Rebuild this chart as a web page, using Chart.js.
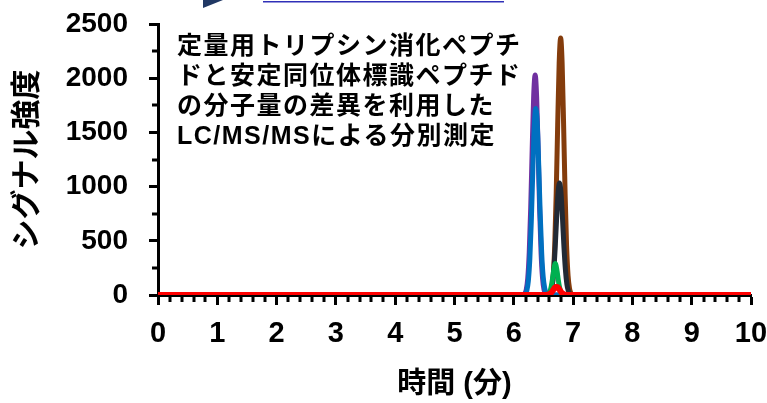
<!DOCTYPE html>
<html lang="ja">
<head>
<meta charset="utf-8">
<script src="https://cdn.jsdelivr.net/npm/chart.js@4.4.1/dist/chart.umd.min.js"></script>
<style>
  html, body { margin: 0; padding: 0; background: #fff; }
  #wrap { position: relative; width: 767px; height: 403px; overflow: hidden; }
  #chart { position: absolute; left: 0; top: 0; }
  #deco { position: absolute; left: 0; top: 0; }
  #note {
    position: absolute; left: 177px; top: 30px;
    font: 700 25px "Liberation Sans", "Noto Sans CJK JP", sans-serif;
    letter-spacing: 1.5px; line-height: 30px; color: #000; white-space: nowrap;
  }
</style>
</head>
<body>
<div id="wrap">
  <canvas id="chart" width="767" height="403"></canvas>
  <svg id="deco" width="767" height="12">
    <polygon points="203,0 223,0 203,8" fill="#203864"/>
    <rect x="263" y="1" width="241" height="1.5" fill="#3030B8"/>
  </svg>
  <div id="note">定量用トリプシン消化ペプチ<br>ドと安定同位体標識ペプチド<br>の分子量の差異を利用した<br>LC/MS/MSによる分別測定</div>
</div>
<script>
// Retention time (min) and signal intensity for each monitored transition
const purpleTime   = [0, 6.14, 6.16, 6.185, 6.21, 6.235, 6.26, 6.285, 6.31, 6.335, 6.36, 6.385, 6.41, 6.435, 6.46, 6.485, 6.51, 6.535, 6.56, 6.58, 10];
const purpleSignal = [0, 0, 3, 13, 49, 153, 389, 801, 1343, 1831, 2030, 1831, 1343, 801, 389, 153, 49, 13, 3, 0, 0];

const blueTime   = [0, 6.15, 6.17, 6.195, 6.22, 6.245, 6.27, 6.295, 6.32, 6.345, 6.37, 6.395, 6.42, 6.445, 6.47, 6.495, 6.52, 6.545, 6.57, 6.6, 6.63, 10];
const blueSignal = [0, 0, 2, 11, 42, 130, 329, 679, 1138, 1551, 1720, 1590, 1200, 750, 390, 170, 65, 22, 6, 1, 0, 0];

const brownTime   = [0, 6.57, 6.59, 6.615, 6.64, 6.665, 6.69, 6.715, 6.74, 6.765, 6.79, 6.815, 6.84, 6.865, 6.89, 6.915, 6.94, 6.965, 6.99, 7.01, 10];
const brownSignal = [0, 0, 3, 15, 58, 179, 454, 935, 1568, 2137, 2370, 2137, 1568, 935, 454, 179, 58, 15, 3, 0, 0];

const greenTime   = [0, 6.55, 6.57, 6.59, 6.61, 6.63, 6.65, 6.67, 6.70, 6.73, 6.75, 6.77, 6.79, 6.81, 6.83, 6.85, 10];
const greenSignal = [0, 0, 3, 11, 32, 75, 140, 220, 290, 220, 140, 75, 32, 11, 3, 0, 0];

const darkTime   = [0, 6.55, 6.57, 6.595, 6.62, 6.645, 6.67, 6.695, 6.72, 6.745, 6.77, 6.795, 6.82, 6.845, 6.87, 6.895, 6.92, 6.945, 6.97, 7.0, 7.03, 10];
const darkSignal = [0, 0, 1, 7, 25, 78, 198, 408, 684, 933, 1034, 950, 720, 450, 235, 100, 36, 11, 3, 1, 0, 0];

const redTime   = [0, 6.52, 6.545, 6.57, 6.595, 6.62, 6.645, 6.67, 6.695, 6.72, 6.745, 6.77, 6.795, 6.82, 6.845, 6.87, 6.895, 6.92, 10];
const redSignal = [0, 0, 1, 2, 6, 15, 30, 50, 69, 76, 69, 50, 30, 15, 6, 2, 1, 0, 0];

// Axis ticks
const xTicks = [0, 1, 2, 3, 4, 5, 6, 7, 8, 9, 10];
const yTicks = [0, 500, 1000, 1500, 2000, 2500];

const toPoints = (t, s) => t.map((v, i) => ({ x: v, y: s[i] }));

// Series listed top-most first (Chart.js paints dataset 0 last)
const series = [
  { t: redTime,    s: redSignal,    color: '#FF0000', width: 6 },
  { t: greenTime,  s: greenSignal,  color: '#00B050', width: 5 },
  { t: darkTime,   s: darkSignal,   color: '#222A35', width: 5 },
  { t: brownTime,  s: brownSignal,  color: '#843C0C', width: 5 },
  { t: blueTime,   s: blueSignal,   color: '#0070C0', width: 5 },
  { t: purpleTime, s: purpleSignal, color: '#7030A0', width: 5 }
];

// Short minor ticks between the labelled ones
const minorTicks = {
  id: 'minorTicks',
  afterDraw(chart) {
    const { ctx, chartArea, scales: { x, y } } = chart;
    ctx.save();
    ctx.fillStyle = '#000';
    for (let i = 1; i < 50; i++) {
      if (i % 5 === 0) continue;
      const px = Math.round(x.getPixelForValue(i / 5));
      ctx.fillRect(px - 1.5, chartArea.bottom, 3, 7);
    }
    for (let v = 250; v < 2500; v += 500) {
      const py = Math.round(y.getPixelForValue(v));
      ctx.fillRect(chartArea.left - 6, py - 1.5, 6, 3);
    }
    ctx.restore();
  }
};

const latin = '"Liberation Sans", Arial, sans-serif';
const cjk = '"Liberation Sans", "Noto Sans CJK JP", sans-serif';

new Chart(document.getElementById('chart'), {
  type: 'line',
  data: {
    datasets: series.map(d => ({
      data: toPoints(d.t, d.s),
      borderColor: d.color,
      backgroundColor: d.color,
      borderWidth: d.width,
      pointRadius: 0,
      cubicInterpolationMode: 'monotone',
      fill: false
    }))
  },
  options: {
    responsive: false,
    animation: false,
    events: [],
    layout: { padding: { top: 24, right: 16, bottom: 0, left: 0 } },
    plugins: { legend: { display: false }, tooltip: { enabled: false } },
    scales: {
      x: {
        type: 'linear',
        min: 0, max: 10,
        afterBuildTicks: s => { s.ticks = xTicks.map(v => ({ value: v })); },
        afterFit: s => { s.height = 108; s.paddingLeft = 0; s.paddingRight = 0; },
        ticks: {
          color: '#000', padding: 12, maxRotation: 0,
          font: { family: latin, size: 29, weight: 'bold' },
          callback: v => String(v)
        },
        grid: { drawOnChartArea: false, drawTicks: true, tickLength: 10, tickWidth: 3, tickColor: '#000' },
        border: { display: true, color: '#000', width: 3 },
        title: {
          display: true, text: '時間 (分)', color: '#000',
          font: { family: cjk, size: 29, weight: 'bold' },
          padding: { top: 0, bottom: 1 }
        }
      },
      y: {
        min: 0, max: 2500,
        afterBuildTicks: s => { s.ticks = yTicks.map(v => ({ value: v })); },
        afterFit: s => { s.width = 158; s.paddingTop = 0; s.paddingBottom = 0; },
        ticks: {
          color: '#000', padding: 21,
          font: { family: latin, size: 28, weight: 'bold' },
          callback: v => String(v)
        },
        grid: { drawOnChartArea: false, drawTicks: true, tickLength: 9, tickWidth: 3, tickColor: '#000' },
        border: { display: true, color: '#000', width: 3 },
        title: {
          display: true, text: 'シグナル強度', color: '#000',
          font: { family: '"Noto Sans CJK JP", sans-serif', size: 30, weight: 'bold' },
          padding: { top: 7, bottom: 0 }
        }
      }
    }
  },
  plugins: [minorTicks]
});
</script>
</body>
</html>
